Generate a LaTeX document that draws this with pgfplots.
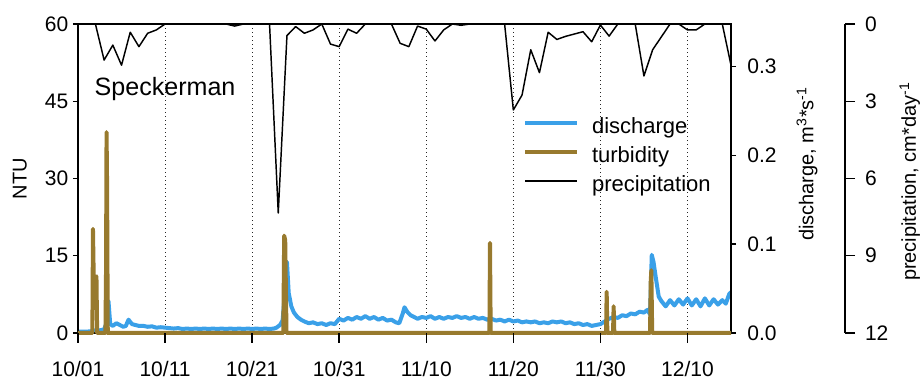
\documentclass[border=0pt]{standalone}
\usepackage{fontspec}
\setmainfont{Liberation Sans}
\usepackage{pgfplots}
\pgfplotsset{compat=1.18}
\definecolor{qblue}{RGB}{58,160,232}
\definecolor{tbrown}{RGB}{152,122,46}
\pgfplotsset{
  base/.style={
    scale only axis, width=489.75pt, height=231.75pt,
    xmin=0, xmax=75,
    anchor=south west,
    /pgf/number format/assume math mode=true,
    tick label style={font=\fontsize{15.75}{18}\selectfont},
    label style={font=\fontsize{15}{18}\selectfont},
    axis line style={line width=1.1pt},
    every tick/.style={black, line width=1.1pt},
    tick align=outside,
  }
}
\begin{document}
\begin{tikzpicture}
\useasboundingbox (-58.5pt,-36pt) rectangle (633pt,249.75pt);
% ---------------- discharge (right axis) + grid
\begin{axis}[base, at={(0pt,0pt)},
  ymin=0, ymax=0.348,
  axis y line*=right, axis x line*=bottom,
  xtick={10,20,...,70}, xticklabels={},
  xmajorgrids,
  grid style={black!85, line width=0.75pt, dash pattern=on 0.75pt off 2.25pt},
  xtick style={draw=none},
  ytick={0,0.1,0.2,0.3}, yticklabels={0.0,0.1,0.2,0.3},
  yticklabel style={xshift=5pt},
  major tick length=3.75pt,
  ylabel={discharge, m\textsuperscript{3}*s\textsuperscript{-1}},
  ylabel style={at={(axis description cs:1.126,0.547)}, anchor=base},
]
\addplot[qblue, line width=3pt, line join=round] table {
0 0.0015
0.5 0.0015
1 0.0015
1.5 0.002
2 0.003
2.5 0.003
3 0.004
3.3 0.012
3.5 0.036
3.7 0.010
4.0 0.008
4.4 0.011
4.8 0.009
5.2 0.007
5.5 0.008
5.8 0.015
6.2 0.010
6.6 0.009
7.0 0.008
7.5 0.008
8.0 0.007
8.5 0.0075
9.0 0.006
9.5 0.0065
10 0.006
10.5 0.0055
11 0.005
11.5 0.0055
12 0.0045
12.5 0.005
13 0.0045
13.5 0.005
14 0.0045
14.5 0.005
15 0.0045
15.5 0.005
16 0.0045
16.5 0.005
17 0.0045
17.5 0.005
18 0.0045
18.5 0.005
19 0.0045
19.5 0.005
20 0.0045
20.5 0.005
21 0.0045
21.5 0.005
22 0.0045
22.5 0.005
22.8 0.006
23.2 0.009
23.5 0.014
23.8 0.050
24.0 0.080
24.2 0.045
24.5 0.030
24.8 0.023
25.2 0.018
25.6 0.015
26.0 0.013
26.5 0.011
27.0 0.012
27.5 0.010
28.0 0.011
28.5 0.009
29.0 0.011
29.5 0.010
30.0 0.016
30.5 0.014
31 0.017
31.5 0.015
32 0.018
32.5 0.016
33 0.019
33.5 0.016
34 0.018
34.5 0.015
35 0.017
35.5 0.014
36 0.015
36.5 0.012
36.9 0.011
37.3 0.022
37.5 0.029
37.8 0.024
38.2 0.020
38.6 0.018
39 0.016
39.5 0.018
40 0.017
40.5 0.019
41 0.016
41.5 0.018
42 0.016
42.5 0.018
43 0.017
43.5 0.019
44 0.017
44.5 0.018
45 0.016
45.5 0.018
46 0.016
46.5 0.017
47 0.015
47.5 0.016
48 0.014
48.5 0.015
49 0.013
49.5 0.015
50 0.013
50.5 0.014
51 0.012
51.5 0.013
52 0.012
52.5 0.013
53 0.011
53.5 0.012
54 0.011
54.5 0.013
55 0.012
55.5 0.013
56 0.011
56.5 0.012
57 0.010
57.5 0.011
58 0.009
58.5 0.010
59 0.008
59.5 0.009
60 0.010
60.5 0.013
61 0.016
61.5 0.018
62 0.017
62.5 0.020
63 0.019
63.5 0.022
64 0.021
64.5 0.024
65 0.023
65.4 0.026
65.7 0.021
65.9 0.088
66.1 0.080
66.4 0.060
66.7 0.041
67.0 0.036
67.5 0.030
68 0.037
68.5 0.031
69 0.038
69.5 0.032
70 0.039
70.5 0.031
71 0.038
71.5 0.030
72 0.039
72.5 0.031
73 0.038
73.5 0.032
74 0.037
74.4 0.033
74.8 0.044
75 0.046
};
\end{axis}
% ---------------- turbidity (left axis, NTU)
\begin{axis}[base, at={(0pt,0pt)},
  ymin=0, ymax=60, ytick={0,15,30,45,60}, ytick pos=left,
  xtick=\empty, major tick length=3.75pt, clip=false,
  ylabel={NTU},
  ylabel style={at={(axis description cs:-0.0786,0.5)}, anchor=base},
  legend style={draw=none, fill=none, at={(axis description cs:0.6815,0.698)},
    anchor=north west, inner sep=0pt, outer sep=0pt,
    font=\fontsize{16.5}{18}\selectfont, row sep=5.9pt,
    nodes={inner sep=0pt, text height=12pt, text depth=4pt},
    /tikz/every odd column/.append style={column sep=9.75pt}},
  legend cell align=left,
  legend image code/.code={\draw[#1] (0pt,4pt) -- (39pt,4pt);},
]
\addlegendimage{qblue, line width=3pt}
\addplot[tbrown, line width=3pt, line join=round] table {
0 0
1.65 0
1.72 20.2
1.85 6
2.0 10.8
2.12 11
2.2 0
3.15 0
3.22 12
3.28 39
3.34 29
3.42 0
23.58 0
23.68 18.9
23.8 18
23.95 0
47.25 0
47.32 17.5
47.4 0
60.65 0
60.72 8.0
60.8 0
61.45 0
61.52 5.2
61.6 0
65.7 0
65.78 10
65.85 12.2
65.95 0
75 0
};
\addlegendimage{black, line width=1.1pt}
\legend{discharge, turbidity, precipitation}
\node[anchor=base west, font=\fontsize{18.8}{22}\selectfont] at (axis description cs:0.0184,0.767) {Speckerman};
\end{axis}
% ---------------- precipitation data (reversed, hidden axes)
\begin{axis}[base, at={(0pt,0pt)},
  ymin=0, ymax=12, y dir=reverse, hide axis,
]
\addplot[black, line width=1.1pt, line join=round] table {
0 0
1 0
2 0
3 1.4
4 0.82
5 1.6
6 0.32
7 0.88
8 0.36
9 0.23
10 0
11 0
12 0
13 0
14 0
15 0
16 0
17 0
18 0.08
19 0
20 0
21 0
22 0
23 7.34
24 0.45
25 0.1
26 0.36
27 0.23
28 0
29 0.78
30 0.88
31 0.2
32 0.36
33 0
34 0
35 0
36 0
37 0.75
38 0.88
39 0.08
40 0.2
41 0.66
42 0.23
43 0
44 0.05
45 0
46 0
47 0
48 0
49 0
50 3.34
51 2.76
52 1.0
53 1.89
54 0.32
55 0.6
56 0.48
57 0.39
58 0.3
59 0.69
60 0.04
61 0.47
62 0
63 0
64 0
65 2.02
66 1.0
67 0.5
68 0
69 0
70 0.23
71 0.23
72 0
73 0
74 0
75 1.6
};
\end{axis}
% ---------------- x ticks and labels
\begin{axis}[base, at={(0pt,0pt)},
  ymin=0, ymax=1, axis y line=none, axis x line*=bottom,
  x axis line style={draw=none},
  xtick={0,10,...,70},
  xticklabels={10/01,10/11,10/21,10/31,11/10,11/20,11/30,12/10},
  xticklabel style={yshift=-10pt},
  major tick length=7.5pt,
]
\end{axis}
% ---------------- offset precipitation axis
\begin{axis}[base, at={(85.5pt,0pt)},
  ymin=0, ymax=12, y dir=reverse,
  axis y line*=right, axis x line=none,
  ytick={0,3,6,9,12},
  yticklabel style={xshift=4pt},
  major tick length=7.5pt,
  ylabel={precipitation, cm*day\textsuperscript{-1}},
  ylabel style={at={(axis description cs:1.1087,0.49)}, anchor=base},
]
\end{axis}
\end{tikzpicture}
\end{document}
